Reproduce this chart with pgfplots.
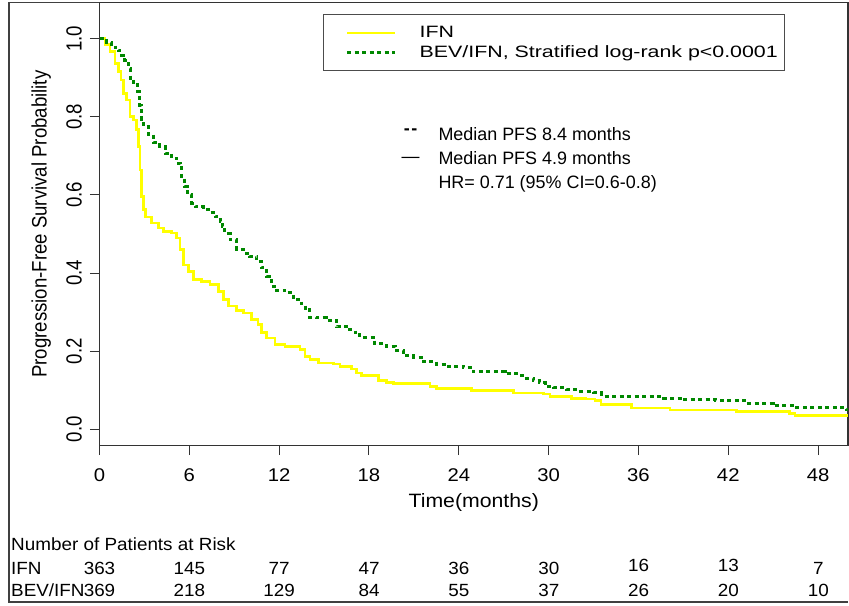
\documentclass[border=0pt]{standalone}
\usepackage{fontspec}
\setmainfont{Liberation Sans}
\newfontfamily\fBottom[FakeStretch=1.1]{Liberation Sans}
\newfontfamily\fYtick[FakeStretch=0.85]{Liberation Sans}
\newfontfamily\fYlab[FakeStretch=0.89]{Liberation Sans}
\newfontfamily\fLeg[FakeStretch=1.3]{Liberation Sans}
\newfontfamily\fRisk[FakeStretch=1.07]{Liberation Sans}
\usepackage{pgfplots}
\pgfplotsset{compat=1.18}
\definecolor{bevgreen}{RGB}{0,136,0}
\definecolor{ifnyellow}{RGB}{255,255,0}

\pgfplotstableread{
t s
0 1.0
0.37 0.985
0.7 0.967
1.04 0.937
1.26 0.916
1.44 0.894
1.59 0.86
1.82 0.843
2.04 0.80
2.26 0.792
2.48 0.767
2.59 0.724
2.7 0.664
2.82 0.596
2.93 0.562
3.08 0.543
3.49 0.528
3.93 0.515
4.26 0.506
4.82 0.502
5.16 0.49
5.38 0.46
5.6 0.421
5.93 0.404
6.27 0.383
6.83 0.379
7.38 0.37
7.94 0.353
8.27 0.332
8.6 0.316
9.17 0.304
9.6 0.298
10.16 0.281
10.6 0.268
10.83 0.247
11.16 0.234
11.72 0.217
12.39 0.212
13.39 0.204
13.73 0.187
14.06 0.178
14.62 0.17
15.62 0.167
16.07 0.161
16.85 0.154
17.18 0.144
17.51 0.137
18.62 0.125
19.18 0.119
19.63 0.117
22.08 0.11
22.52 0.105
24.86 0.1
27.64 0.093
29.65 0.09
30.1 0.084
31.54 0.079
32.5 0.078
33.1 0.074
33.5 0.063
35.55 0.055
38.1 0.049
42.56 0.045
46.1 0.04
46.46 0.036
50 0.036
}\ifndata

\pgfplotstableread{
t s
0 1.0
0.48 0.99
0.81 0.985
1.04 0.978
1.26 0.969
1.48 0.958
1.7 0.945
1.93 0.924
2.04 0.899
2.26 0.882
2.55 0.864
2.7 0.83
2.82 0.792
2.93 0.775
3.26 0.754
3.6 0.733
4.04 0.724
4.38 0.707
4.82 0.694
5.16 0.681
5.42 0.673
5.49 0.647
5.67 0.621
5.89 0.60
6.16 0.579
6.38 0.569
6.93 0.562
7.38 0.555
7.72 0.545
8.05 0.532
8.2 0.519
8.38 0.502
8.72 0.485
9.17 0.46
9.6 0.451
10.05 0.442
10.5 0.43
10.83 0.413
11.17 0.391
11.5 0.366
11.84 0.356
12.39 0.349
12.95 0.333
13.5 0.321
13.73 0.306
14.06 0.287
14.5 0.285
15.17 0.279
15.84 0.263
16.51 0.255
17.07 0.247
17.4 0.235
18.4 0.219
19.18 0.212
19.74 0.202
20.3 0.188
20.96 0.185
21.63 0.174
22.52 0.167
23.3 0.161
24.3 0.157
24.97 0.147
27.09 0.142
28.2 0.138
28.53 0.131
28.98 0.125
29.38 0.12
29.76 0.11
30.31 0.106
31.2 0.101
31.98 0.097
32.98 0.093
33.54 0.085
37.66 0.08
38.9 0.075
41.12 0.073
43.1 0.066
45 0.06
46.46 0.055
49.9 0.05
50 0.05
}\bevdata

\begin{document}
\begin{tikzpicture}[x=1bp,y=1bp]
\useasboundingbox (0,0) rectangle (849,606);
% outer figure frame
\draw[black!75, line width=1.2bp] (848,603.3) -- (9,603.3) -- (9,4) -- (848,4);
\begin{axis}[
  at={(99.5bp,160.3bp)}, anchor=south west, scale only axis,
  width=748.5bp, height=443bp,
  xmin=0, xmax=50, ymin=-0.042, ymax=1.092,
  axis line style={black!80, line width=1.2bp},
  /pgf/number format/assume math mode=true,
  xtick={0,6,12,18,24,30,36,42,48},
  ytick={0,0.2,0.4,0.6,0.8,1.0},
  xtick pos=bottom, ytick pos=left, tick align=outside,
  major tick length=9.5bp,
  every tick/.style={black!80, line width=1bp},
  xticklabel style={font=\fBottom\fontsize{18.5}{18.5}\selectfont, anchor=north, inner sep=0pt},
  xticklabel shift=13.3bp,
  yticklabel style={font=\fYtick\fontsize{22}{22}\selectfont, rotate=90, anchor=base, inner sep=0pt,
    /pgf/number format/fixed, /pgf/number format/fixed zerofill, /pgf/number format/precision=1},
  yticklabel shift=8.3bp,
  xlabel={Time(months)},
  xlabel style={at={(axis description cs:0.5,-0.1384)}, anchor=base, inner sep=0pt,
    font=\fBottom\fontsize{19.4}{19.4}\selectfont},
  ylabel={Progression-Free Survival Probability},
  ylabel style={at={(axis description cs:-0.07054,0.5)}, anchor=base, inner sep=0pt,
    font=\fYlab\fontsize{21}{21}\selectfont},
  legend cell align=left,
  legend image code/.code={\draw[#1] plot coordinates {(21.7bp,0bp) (45.85bp,0bp) (70bp,0bp)}; \path (0bp,0bp) (92.8bp,0bp);},
  legend style={at={(axis description cs:0.2997,0.9729)}, anchor=north west,
    draw=black!70, line width=1bp, fill=white, outer sep=0pt,
    inner xsep=0pt, inner ysep=12bp, row sep=5.9bp, column sep=0pt,
    nodes={inner sep=0pt},
    font=\fLeg\fontsize{16.5}{16.5}\selectfont},
]
\addplot[const plot, ifnyellow, line width=2.6bp] table[x=t,y=s] {\ifndata};
\addlegendentry{IFN}
\addplot[const plot, bevgreen, line width=3bp, dash pattern=on 4bp off 3.5bp] table[x=t,y=s] {\bevdata};
\addlegendentry{BEV/IFN, Stratified log-rank p<0.0001\hspace*{6.4bp}}
\end{axis}
% annotation
\begin{scope}[every node/.style={inner sep=0pt, anchor=base west, font=\fontsize{18}{18}\selectfont}]
\node at (403.6,471) {\textbf{-\kern1.5bp-}};
\node at (438.3,465) {Median PFS 8.4 months};
\node at (401.5,443.4) {—};
\node at (438.3,441) {Median PFS 4.9 months};
\node at (438.3,417.5) {HR= 0.71 (95\% CI=0.6-0.8)};
\end{scope}
% risk table
\begin{scope}[every node/.style={inner sep=0pt, font=\fRisk\fontsize{17.7}{17.7}\selectfont}]
\node[anchor=base west] at (11,55) {Number of Patients at Risk};
\node[anchor=base west] at (11,31) {IFN};
\node[anchor=base west] at (11,9) {BEV/IFN};
\foreach \v [count=\k from 0] in {363,145,77,47,36,30,16,13,7} {
  \pgfmathsetmacro{\yy}{(\k==6 || \k==7) ? 34 : 31}
  \node[anchor=base] at (99.5+89.85*\k,\yy) {\v};
}
\foreach \v [count=\k from 0] in {369,218,129,84,55,37,26,20,10} {
  \node[anchor=base] at (99.5+89.85*\k,9) {\v};
}
\end{scope}
\end{tikzpicture}
\end{document}
